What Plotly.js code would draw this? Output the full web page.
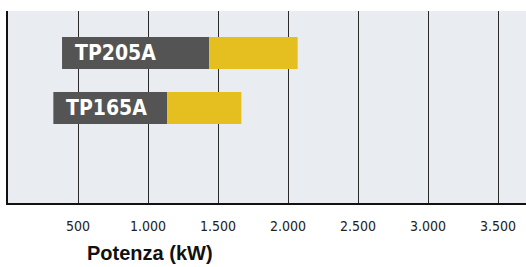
<!DOCTYPE html>
<html>
<head>
<meta charset="utf-8">
<script src="https://cdn.plot.ly/plotly-3.0.1.min.js"></script>
<style>html,body{margin:0;padding:0;background:#fff;}#chart{width:526px;height:267px;}</style>
</head>
<body>
<div id="chart"></div>
<script>
const models = ['TP165A', 'TP205A'];
const rangeStart = [324, 386];
const rangeMid = [1136, 1436];
const rangeEnd = [1667, 2069];
const tickValues = [500, 1000, 1500, 2000, 2500, 3000, 3500];
const axisTitle = 'Potenza (kW)';

const grayLen = rangeMid.map((m, i) => m - rangeStart[i]);
const yellowLen = rangeEnd.map((e, i) => e - rangeMid[i]);

const traces = [
  {type: 'bar', orientation: 'h', y: models, x: grayLen, base: rangeStart,
   marker: {color: '#545454'}, hoverinfo: 'skip'},
  {type: 'bar', orientation: 'h', y: models, x: yellowLen, base: rangeMid,
   marker: {color: '#e5bf1f'}, hoverinfo: 'skip'}
];

const condensed = 'DejaVu Sans Condensed, Roboto, sans-serif';
const annotations = models.map((m, i) => ({
  x: rangeStart[i], y: m, xref: 'x', yref: 'y', text: '<b>' + m + '</b>',
  showarrow: false, xanchor: 'left', yanchor: 'middle', xshift: 11,
  font: {family: condensed, size: 21, color: '#ffffff'}
}));
annotations.push({
  x: 0.154, y: -0.26, xref: 'paper', yref: 'paper', text: '<b>' + axisTitle + '</b>',
  showarrow: false, xanchor: 'left', yanchor: 'middle', xshift: -3,
  font: {family: 'Liberation Sans', size: 20, color: '#111'}
});

const layout = {
  width: 526, height: 267,
  margin: {l: 8, r: 0, t: 11, b: 64, pad: 0},
  paper_bgcolor: '#ffffff', plot_bgcolor: '#e9ecf0',
  separators: ',.',
  showlegend: false,
  barmode: 'overlay',
  bargap: 0.42,
  xaxis: {range: [0, 3700], tickvals: tickValues, tickformat: ',d',
          showgrid: true, gridcolor: '#2a2a2a', gridwidth: 1,
          showline: true, linecolor: '#111', linewidth: 2,
          ticks: 'outside', ticklen: 9, tickcolor: 'rgba(0,0,0,0)',
          zeroline: false,
          tickfont: {family: condensed, size: 14, color: '#222'}},
  yaxis: {type: 'category', categoryarray: models, range: [-1.727, 1.764],
          showticklabels: false, showgrid: false, zeroline: false,
          showline: true, linecolor: '#111', linewidth: 2, ticks: ''},
  annotations: annotations
};

Plotly.newPlot('chart', traces, layout, {displayModeBar: false, staticPlot: true});
</script>
</body>
</html>
